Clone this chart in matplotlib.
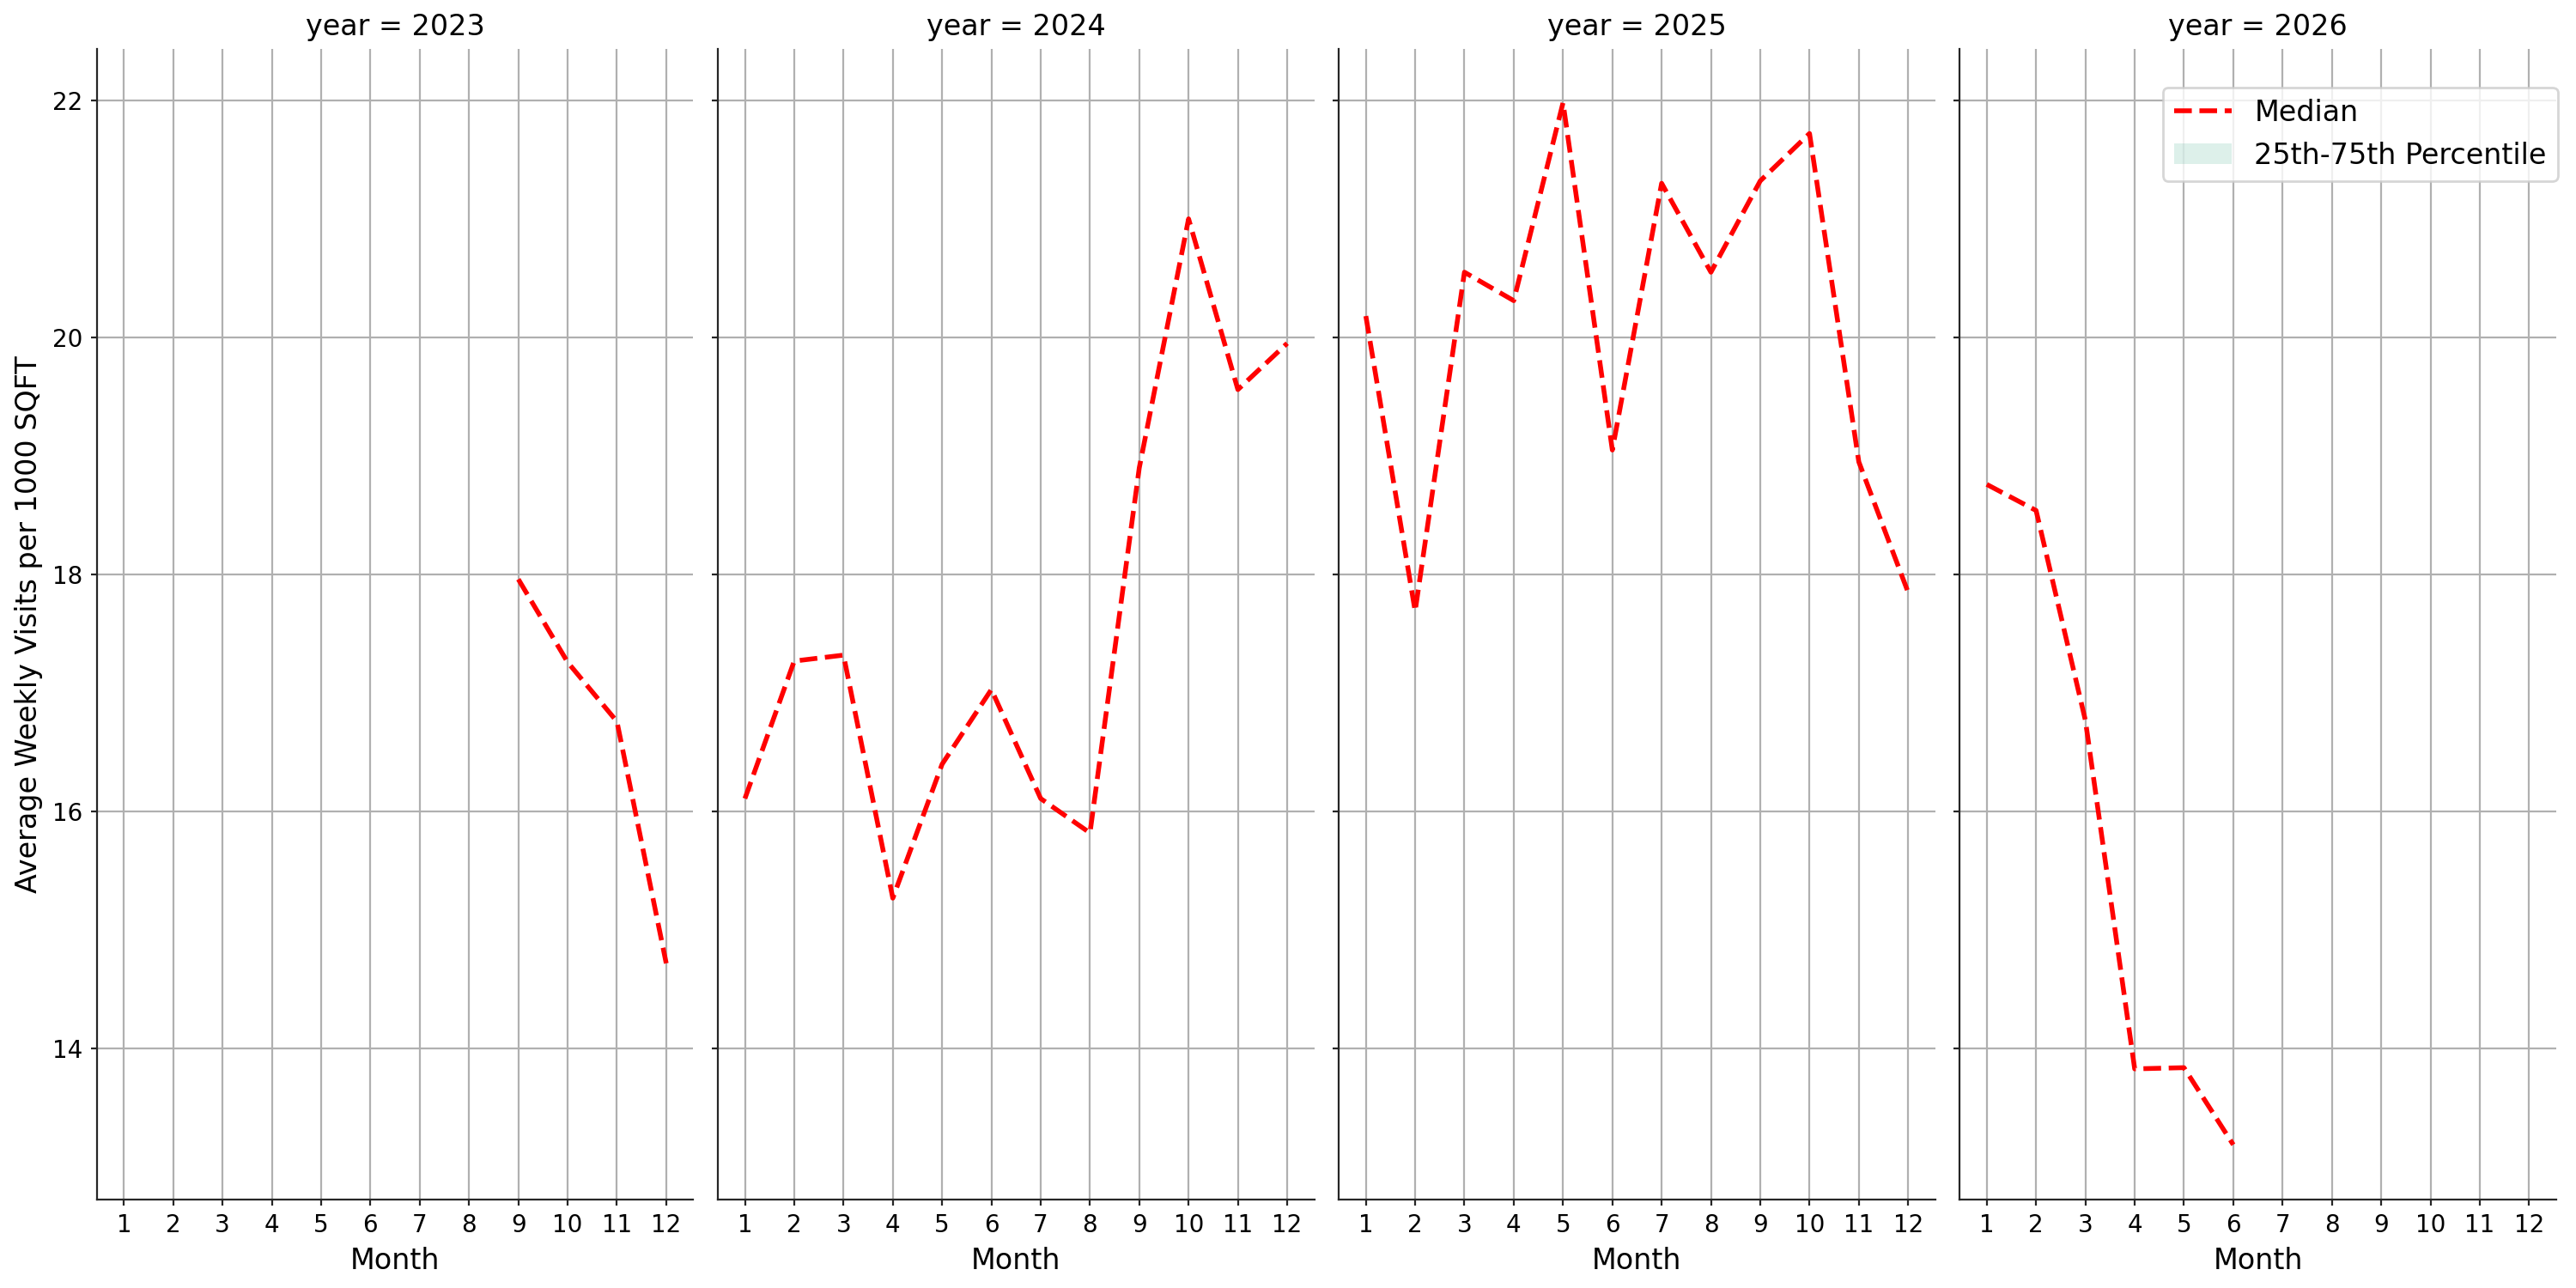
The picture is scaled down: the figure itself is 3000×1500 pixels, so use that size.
import numpy as np
import matplotlib
matplotlib.use("Agg")
import matplotlib.pyplot as plt

years = [2023, 2024, 2025, 2026]
months = list(range(1, 13))

months_2023 = [9, 10, 11, 12]
median_2023 = [17.96, 17.26, 16.76, 14.72]

months_2024 = list(range(1, 13))
median_2024 = [16.11, 17.27, 17.32, 15.27, 16.40, 17.03, 16.11, 15.82, 18.90, 21.00, 19.56, 19.95]

months_2025 = list(range(1, 13))
median_2025 = [20.18, 17.69, 20.55, 20.31, 21.98, 19.05, 21.30, 20.55, 21.32, 21.72, 18.95, 17.85]

months_2026 = [1, 2, 3, 4, 5, 6]
median_2026 = [18.76, 18.54, 16.77, 13.83, 13.84, 13.19]

series = {
    2023: (months_2023, median_2023),
    2024: (months_2024, median_2024),
    2025: (months_2025, median_2025),
    2026: (months_2026, median_2026),
}

yticks = [14, 16, 18, 20, 22]

fig, axes = plt.subplots(1, 4, figsize=(15, 7.5), dpi=200, sharey=True)
fig.subplots_adjust(left=0.0376, right=0.9923, top=0.9617, bottom=0.0689, wspace=0.041)

for ax, yr in zip(axes, years):
    x, y = series[yr]
    ax.plot(x, y, color="red", linestyle="--", linewidth=2, label="Median")
    ax.fill_between(x, y, y, color="#1b9e77", alpha=0.15, linewidth=0,
                    label="25th-75th Percentile")
    ax.set_title(f"year = {yr}", fontsize=12)
    ax.set_xlabel("Month", fontsize=12)
    ax.set_xticks(months)
    ax.set_xticklabels([str(m) for m in months])
    ax.set_xlim(0.45, 12.55)
    ax.set_yticks(yticks)
    ax.set_ylim(12.73, 22.43)
    ax.grid(True, color="#b0b0b0", linewidth=0.8)
    ax.set_axisbelow(True)
    ax.tick_params(labelsize=10, length=2.5, color="#262626")
    for s in ["top", "right"]:
        ax.spines[s].set_visible(False)
    for s in ["left", "bottom"]:
        ax.spines[s].set_color("#262626")

axes[0].set_ylabel("Average Weekly Visits per 1000 SQFT", fontsize=12)
axes[-1].legend(loc="upper right", fontsize=12, borderaxespad=0,
                bbox_to_anchor=(1.003, 0.967))

fig.savefig("out.png", dpi=200)
